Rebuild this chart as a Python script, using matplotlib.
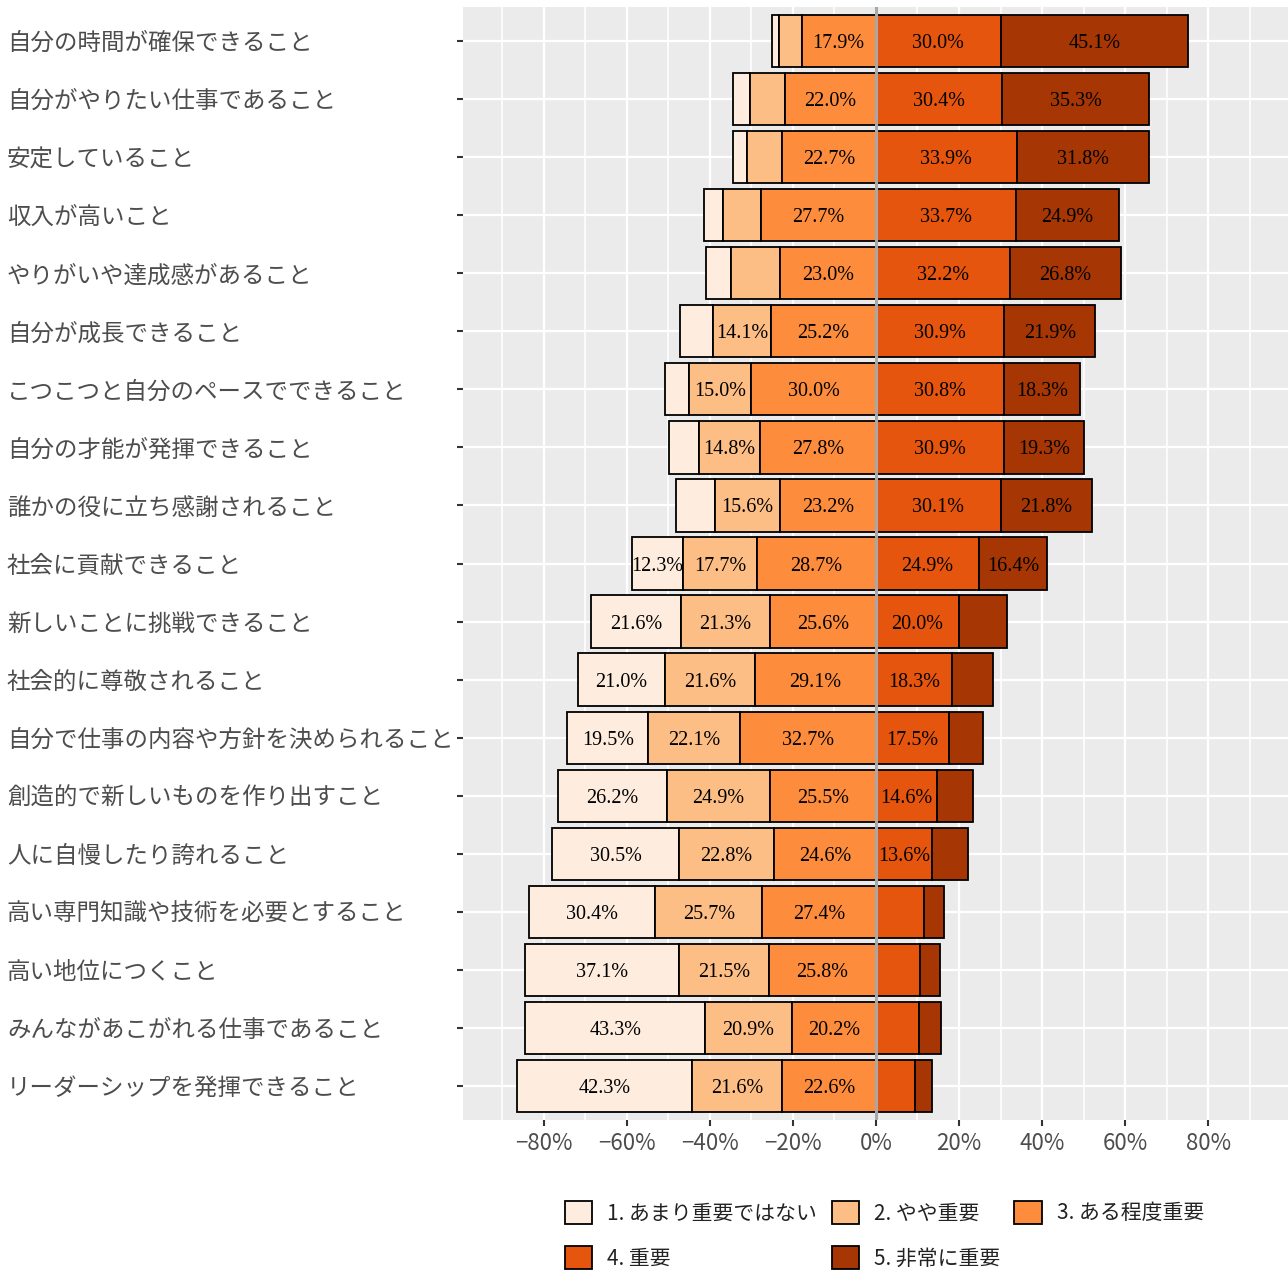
import numpy as np
import matplotlib.pyplot as plt
from matplotlib.patches import Patch
from matplotlib.transforms import blended_transform_factory

items = ['自分の時間が確保できること', '自分がやりたい仕事であること', '安定していること',
         '収入が高いこと', 'やりがいや達成感があること', '自分が成長できること',
         'こつこつと自分のペースでできること', '自分の才能が発揮できること',
         '誰かの役に立ち感謝されること', '社会に貢献できること', '新しいことに挑戦できること',
         '社会的に尊敬されること', '自分で仕事の内容や方針を決められること',
         '創造的で新しいものを作り出すこと', '人に自慢したり誇れること',
         '高い専門知識や技術を必要とすること', '高い地位につくこと',
         'みんながあこがれる仕事であること', 'リーダーシップを発揮できること']

levels = ['1. あまり重要ではない', '2. やや重要', '3. ある程度重要', '4. 重要', '5. 非常に重要']

lv1 = [1.5, 4.1, 3.4, 4.6, 6.1, 7.9, 5.8, 7.2, 9.4, 12.3, 21.6, 21.0, 19.5, 26.2, 30.5, 30.4, 37.1, 43.3, 42.3]
lv2 = [5.5, 8.4, 8.4, 9.1, 11.9, 14.1, 15.0, 14.8, 15.6, 17.7, 21.3, 21.6, 22.1, 24.9, 22.8, 25.7, 21.5, 20.9, 21.6]
lv3 = [17.9, 22.0, 22.7, 27.7, 23.0, 25.2, 30.0, 27.8, 23.2, 28.7, 25.6, 29.1, 32.7, 25.5, 24.6, 27.4, 25.8, 20.2, 22.6]
lv4 = [30.0, 30.4, 33.9, 33.7, 32.2, 30.9, 30.8, 30.9, 30.1, 24.9, 20.0, 18.3, 17.5, 14.6, 13.6, 11.6, 10.5, 10.3, 9.4]
lv5 = [45.1, 35.3, 31.8, 24.9, 26.8, 21.9, 18.3, 19.3, 21.8, 16.4, 11.5, 10.0, 8.2, 8.8, 8.5, 4.8, 5.0, 5.3, 4.1]

colors = ['#FEEDDE', '#FDBE85', '#FD8D3C', '#E6550D', '#A63603']
ticks = [-80, -60, -40, -20, 0, 20, 40, 60, 80]

JP = 'Noto Sans CJK JP'
NARROW = ['Liberation Sans Narrow', 'Noto Sans CJK JP', 'DejaVu Sans']

fig = plt.figure(figsize=(12.88, 12.72), dpi=100)
ax = fig.add_axes([463 / 1288, 1 - 1120 / 1272, 1 - 463 / 1288, (1120 - 7) / 1272])
ax.set_facecolor('#EBEBEB')

y = np.arange(len(items))
v1, v2, v3 = np.array(lv1), np.array(lv2), np.array(lv3)
v4, v5 = np.array(lv4), np.array(lv5)

# negative side stacks 3 -> 2 -> 1 leftwards, positive side 4 -> 5
segs = [
    (v1, -(v3 + v2 + v1)),
    (v2, -(v3 + v2)),
    (v3, -v3),
    (v4, np.zeros_like(v4)),
    (v5, v4),
]
for (vals, left), c in zip(segs, colors):
    ax.barh(y, vals, left=left, height=0.9, color=c, edgecolor='black',
            linewidth=1.3, zorder=2)
    for yi, v, l in zip(y, vals, left):
        if v >= 12:
            ax.text(l + v / 2, yi, f'{v:.1f}%', ha='center', va='center_baseline',
                    fontsize=14.5, family='Liberation Serif', color='black', zorder=4)

ax.axvline(0, color='#A8A8A8', linewidth=2.2, zorder=3)

ax.set_xlim(-99.4, 99.2)
ax.set_ylim(len(items) - 0.414, -0.586)
ax.set_xticks(ticks)
ax.set_xticks(np.arange(-90, 100, 20), minor=True)
ax.set_xticklabels([f'{t}%'.replace('-', '−') for t in ticks], fontsize=16,
                   family=NARROW, color='#4D4D4D')
ax.set_yticks(y)
ax.set_yticklabels([])
ax.grid(which='major', color='white', linewidth=1.6, zorder=0)
ax.grid(which='minor', axis='x', color='white', linewidth=1.2, zorder=0)
ax.set_axisbelow(True)
ax.tick_params(axis='both', which='major', color='#333333', width=1.5, length=4.5)
ax.tick_params(axis='x', which='minor', length=0)
ax.tick_params(axis='x', pad=4)
for s in ax.spines.values():
    s.set_visible(False)

tr = blended_transform_factory(fig.transFigure, ax.transData)
for yi, name in zip(y, items):
    ax.text(7 / 1288, yi, name, transform=tr, ha='left', va='center_baseline',
            fontsize=16.9, family=JP, color='#4D4D4D')

handles = [Patch(facecolor=c, edgecolor='black', linewidth=1.3) for c in colors]
order = [0, 3, 1, 4, 2]
fig.legend([handles[i] for i in order], [levels[i] for i in order], ncol=3,
           loc='upper left', bbox_to_anchor=(565 / 1288, 1 - 1201 / 1272),
           frameon=False, borderpad=0, borderaxespad=0,
           handlelength=1.3, handleheight=1.3, handletextpad=0.72,
           columnspacing=0.7, labelspacing=1.05,
           prop={'family': NARROW, 'size': 15}, labelcolor='#222222')

fig.savefig('out.png', dpi=100)
